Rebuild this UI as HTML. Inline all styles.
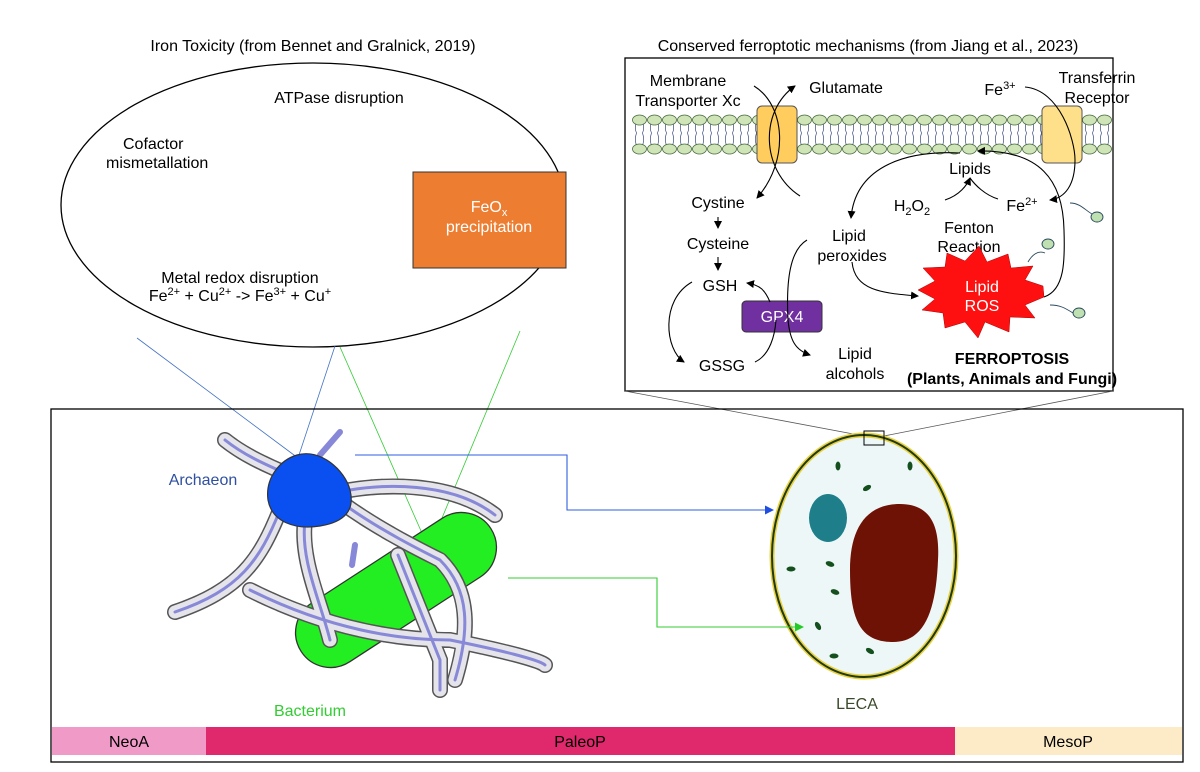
<!DOCTYPE html>
<html><head><meta charset="utf-8"><style>
body{margin:0;background:#fff}
svg{display:block;font-family:"Liberation Sans",Arial,sans-serif}
</style></head><body>
<svg width="1200" height="772" viewBox="0 0 1200 772" xmlns="http://www.w3.org/2000/svg">
<defs>
<marker id="a" markerWidth="8" markerHeight="8" refX="7" refY="4" orient="auto" markerUnits="userSpaceOnUse"><path d="M0,0 L8,4 L0,8 z" fill="#000"/></marker>
<marker id="ab" markerWidth="9" markerHeight="9" refX="8" refY="4.5" orient="auto" markerUnits="userSpaceOnUse"><path d="M0,0 L9,4.5 L0,9 z" fill="#1f4fe0"/></marker>
<marker id="ag" markerWidth="9" markerHeight="9" refX="8" refY="4.5" orient="auto" markerUnits="userSpaceOnUse"><path d="M0,0 L9,4.5 L0,9 z" fill="#22cc22"/></marker>
<pattern id="mem" x="632" y="110" width="15" height="46" patternUnits="userSpaceOnUse">
<g stroke="#3a4a80" stroke-width="0.7" fill="none">
<path d="M4.5,10 C3,17 3,20 4.5,23 C3,27 3,31 4.5,36"/>
<path d="M10.5,10 C12,17 12,20 10.5,23 C12,27 12,31 10.5,36"/>
</g>
<g fill="#cfe5b8" stroke="#4a6a40" stroke-width="0.8">
<ellipse cx="7.5" cy="10" rx="7" ry="5"/>
<ellipse cx="7.5" cy="39" rx="7" ry="5"/>
</g>
</pattern>
</defs>

<!-- Left: iron toxicity -->
<text x="313" y="51" font-size="16" text-anchor="middle">Iron Toxicity (from Bennet and Gralnick, 2019)</text>
<ellipse cx="313" cy="205" rx="252" ry="142" fill="#fff" stroke="#000" stroke-width="1.3"/>
<rect x="413" y="172" width="153" height="96" fill="#ED7D31" stroke="#333" stroke-width="1"/>
<text x="489" y="212" font-size="16" fill="#fff" text-anchor="middle">FeO<tspan font-size="11" dy="4">x</tspan></text>
<text x="489" y="232" font-size="16" fill="#fff" text-anchor="middle">precipitation</text>
<text x="339" y="103" font-size="16" text-anchor="middle">ATPase disruption</text>
<text x="123" y="149" font-size="16">Cofactor</text>
<text x="106" y="168" font-size="16">mismetallation</text>
<text x="240" y="283" font-size="16" text-anchor="middle">Metal redox disruption</text>
<text x="240" y="301" font-size="16" text-anchor="middle">Fe<tspan font-size="11" dy="-6">2+</tspan><tspan dy="6"> + Cu</tspan><tspan font-size="11" dy="-6">2+</tspan><tspan dy="6"> -&gt; Fe</tspan><tspan font-size="11" dy="-6">3+</tspan><tspan dy="6"> + Cu</tspan><tspan font-size="11" dy="-6">+</tspan></text>

<line x1="137" y1="338" x2="298" y2="458" stroke="#4472C4" stroke-width="0.8"/>
<line x1="335" y1="346" x2="298" y2="458" stroke="#4472C4" stroke-width="0.8"/>
<line x1="340" y1="347" x2="425" y2="540" stroke="#33cc33" stroke-width="0.8"/>
<line x1="520" y1="331" x2="437" y2="530" stroke="#33cc33" stroke-width="0.8"/>

<!-- Right: ferroptosis -->
<text x="868" y="51" font-size="16" text-anchor="middle">Conserved ferroptotic mechanisms (from Jiang et al., 2023)</text>
<rect x="625" y="58" width="488" height="333" fill="#fff" stroke="#000" stroke-width="1.3"/>
<rect x="632" y="110" width="480" height="46" fill="url(#mem)"/>
<rect x="757" y="106" width="40" height="57" rx="5" fill="#FFCC5E" stroke="#555" stroke-width="1"/>
<rect x="1042" y="106" width="40" height="57" rx="5" fill="#FFE08A" stroke="#555" stroke-width="1"/>

<g font-size="16" text-anchor="middle">
<text x="688" y="86">Membrane</text>
<text x="688" y="106">Transporter Xc</text>
<text x="846" y="93">Glutamate</text>
<text x="1000" y="95">Fe<tspan font-size="11" dy="-6">3+</tspan></text>
<text x="1097" y="83">Transferrin</text>
<text x="1097" y="103">Receptor</text>
<text x="970" y="174">Lipids</text>
<text x="912" y="211">H<tspan font-size="11" dy="4">2</tspan><tspan dy="-4">O</tspan><tspan font-size="11" dy="4">2</tspan></text>
<text x="1022" y="211">Fe<tspan font-size="11" dy="-6">2+</tspan></text>
<text x="969" y="233">Fenton</text>
<text x="969" y="252">Reaction</text>
<text x="718" y="208">Cystine</text>
<text x="718" y="249">Cysteine</text>
<text x="720" y="291">GSH</text>
<text x="722" y="371">GSSG</text>
<text x="849" y="241">Lipid</text>
<text x="852" y="261">peroxides</text>
<text x="855" y="359">Lipid</text>
<text x="855" y="379">alcohols</text>
<text x="1012" y="364" font-weight="bold">FERROPTOSIS</text>
<text x="1012" y="384" font-weight="bold">(Plants, Animals and Fungi)</text>
</g>
<rect x="742" y="301" width="80" height="31" rx="4" fill="#7030A0" stroke="#333"/>
<text x="782" y="322" font-size="16" fill="#fff" text-anchor="middle">GPX4</text>
<polygon fill="#FF1010" stroke="#aa0000" stroke-width="0.5" points="1044,297 1025,305 1035,318 1010,317 1009,332 985,322 978,338 965,322 945,328 943,313 922,310 935,299 918,290 935,281 923,268 945,267 947,253 965,261 979,246 987,262 1008,254 1011,268 1033,266 1025,280 1043,286"/>
<text x="982" y="292" font-size="16" fill="#fff" text-anchor="middle">Lipid</text>
<text x="982" y="311" font-size="16" fill="#fff" text-anchor="middle">ROS</text>

<g fill="none" stroke="#000" stroke-width="1.1">
<path d="M754,86 C785,105 790,160 757,198" marker-end="url(#a)"/>
<path d="M800,196 C760,170 760,110 795,86" marker-end="url(#a)"/>
<path d="M718,217 L718,228" marker-end="url(#a)"/>
<path d="M718,257 L718,270" marker-end="url(#a)"/>
<path d="M692,282 C660,300 665,350 684,362" marker-end="url(#a)"/>
<path d="M755,362 C770,355 775,335 776,320"/>
<path d="M770,302 C765,290 760,285 747,283" marker-end="url(#a)"/>
<path d="M807,240 C790,250 786,280 788,320 C790,340 795,350 810,355" marker-end="url(#a)"/>
<path d="M852,262 C855,290 880,293 918,296" marker-end="url(#a)"/>
<path d="M945,200 C960,195 967,185 970,178" marker-end="url(#a)"/>
<path d="M998,199 C985,195 975,185 970,178"/>
<path d="M1025,87 C1060,90 1075,140 1075,160 C1075,185 1065,198 1050,200" marker-end="url(#a)"/>
<path d="M1044,297 C1065,290 1065,260 1064,230 C1063,180 1040,150 978,151" marker-end="url(#a)"/>
<path d="M960,153 C900,150 855,170 851,218" marker-end="url(#a)"/>
</g>
<g fill="#bfe0b0" stroke="#2a4a60" stroke-width="0.9">
<path d="M1070,203 C1080,203 1085,210 1092,214" fill="none"/><ellipse cx="1097" cy="217" rx="6" ry="5"/>
<path d="M1028,262 C1032,255 1038,250 1045,253" fill="none"/><ellipse cx="1048" cy="244" rx="6" ry="5"/>
<path d="M1050,305 C1060,305 1065,308 1073,313" fill="none"/><ellipse cx="1079" cy="313" rx="6" ry="5"/>
</g>

<line x1="625" y1="391" x2="864" y2="436" stroke="#555" stroke-width="0.8"/>
<line x1="1113" y1="391" x2="884" y2="436" stroke="#555" stroke-width="0.8"/>

<rect x="51" y="409" width="1132" height="353" fill="none" stroke="#000" stroke-width="1.3"/>

<!-- bacterium -->
<g transform="translate(396,590) rotate(-33)">
<rect x="-113" y="-35" width="226" height="70" rx="35" fill="#22EE22" stroke="#333" stroke-width="1.3"/>
</g>
<g fill="none" stroke-linecap="round">
<g stroke="#555" stroke-width="16" stroke-dasharray="10 1">
<path d="M225,440 C250,460 280,470 300,480"/>
<path d="M280,510 C260,560 240,590 175,612"/>
<path d="M305,520 C300,560 320,600 330,640"/>
<path d="M345,505 C380,530 420,550 440,560 C470,590 470,630 455,680"/>
<path d="M250,590 C330,630 400,640 450,640 C500,650 540,660 545,665"/>
<path d="M350,490 C380,485 450,480 495,515"/>
<path d="M398,555 L440,660 L440,690"/>
</g>
<g stroke="#e4e4ea" stroke-width="13">
<path d="M225,440 C250,460 280,470 300,480"/>
<path d="M280,510 C260,560 240,590 175,612"/>
<path d="M305,520 C300,560 320,600 330,640"/>
<path d="M345,505 C380,530 420,550 440,560 C470,590 470,630 455,680"/>
<path d="M250,590 C330,630 400,640 450,640 C500,650 540,660 545,665"/>
<path d="M350,490 C380,485 450,480 495,515"/>
<path d="M398,555 L440,660 L440,690"/>
</g>
<g stroke="#8888d8" stroke-width="3">
<path d="M225,440 C250,460 280,470 300,480"/>
<path d="M280,510 C260,560 240,590 175,612"/>
<path d="M305,520 C300,560 320,600 330,640"/>
<path d="M345,505 C380,530 420,550 440,560 C470,590 470,630 455,680"/>
<path d="M250,590 C330,630 400,640 450,640 C500,650 540,660 545,665"/>
<path d="M350,490 C380,485 450,480 495,515"/>
<path d="M398,555 L440,660 L440,690"/>
<path d="M320,455 L340,432" stroke-width="6"/>
<path d="M355,545 L352,565" stroke-width="6"/>
</g>
</g>
<path d="M297,455 C320,448 345,470 350,490 C355,510 345,522 320,526 C295,530 272,522 268,500 C265,478 280,460 297,455 Z" fill="#0A50F0" stroke="#333" stroke-width="1.2"/>

<!-- LECA -->
<ellipse cx="864" cy="556" rx="92" ry="121" fill="#EEF7F8" stroke="#e8d040" stroke-width="5"/>
<ellipse cx="864" cy="556" rx="92" ry="121" fill="none" stroke="#1e3a10" stroke-width="2"/>
<ellipse cx="828" cy="518" rx="19" ry="24" fill="#1E7F8A"/>
<path d="M900,504 C930,504 940,525 938,560 C936,610 925,642 893,642 C860,642 850,620 850,570 C850,530 865,504 900,504 Z" fill="#6E1206"/>
<g fill="#14501e">
<ellipse cx="838" cy="466" rx="2.5" ry="4.5"/><ellipse cx="910" cy="466" rx="2.5" ry="4.5"/>
<ellipse cx="867" cy="488" rx="4.5" ry="2.5" transform="rotate(-30 867 488)"/>
<ellipse cx="791" cy="569" rx="4.5" ry="2.5"/><ellipse cx="830" cy="564" rx="4.5" ry="2.5" transform="rotate(20 830 564)"/>
<ellipse cx="835" cy="592" rx="4.5" ry="2.5" transform="rotate(20 835 592)"/>
<ellipse cx="818" cy="626" rx="2.5" ry="4.5" transform="rotate(-30 818 626)"/>
<ellipse cx="834" cy="656" rx="4.5" ry="2.5"/>
<ellipse cx="870" cy="651" rx="4.5" ry="2.5" transform="rotate(30 870 651)"/>
</g>
<rect x="864" y="431" width="20" height="14" fill="none" stroke="#000" stroke-width="1"/>

<!-- connectors -->
<path d="M355,455 L567,455 L567,510 L773,510" fill="none" stroke="#2f5fe0" stroke-width="1.1" marker-end="url(#ab)"/>
<path d="M508,578 L657,578 L657,627 L803,627" fill="none" stroke="#33cc33" stroke-width="1.1" marker-end="url(#ag)"/>

<text x="203" y="485" font-size="16" fill="#2F4FA0" text-anchor="middle">Archaeon</text>
<text x="310" y="716" font-size="16" fill="#33CC33" text-anchor="middle">Bacterium</text>
<text x="857" y="709" font-size="16" fill="#3a4a2a" text-anchor="middle">LECA</text>

<rect x="52" y="727" width="154" height="28" fill="#F09AC8"/>
<rect x="206" y="727" width="749" height="28" fill="#E0286C"/>
<rect x="955" y="727" width="227" height="28" fill="#FDEBC8"/>
<text x="129" y="747" font-size="16" text-anchor="middle">NeoA</text>
<text x="580" y="747" font-size="16" text-anchor="middle">PaleoP</text>
<text x="1068" y="747" font-size="16" text-anchor="middle">MesoP</text>
</svg>
</body></html>
